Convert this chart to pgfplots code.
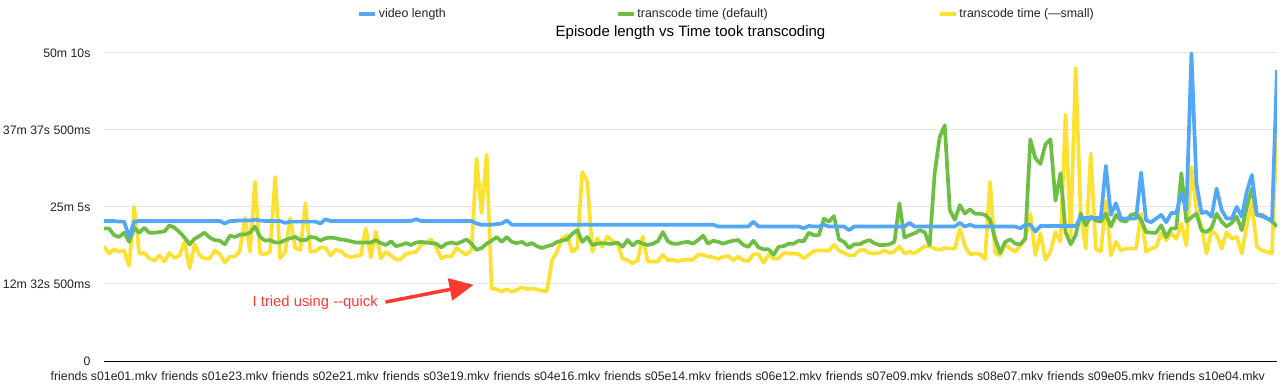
\documentclass[border=0pt]{standalone}
\usepackage{pgfplots}
\pgfplotsset{compat=1.18}
\usepackage{pgfplotstable}
\usepackage{fontspec}
\setmainfont{Liberation Sans}
\usetikzlibrary{arrows.meta}
\definecolor{vblue}{RGB}{82,167,248}
\definecolor{tgreen}{RGB}{111,190,68}
\definecolor{tyellow}{RGB}{252,224,50}
\definecolor{ared}{RGB}{255,59,48}
\definecolor{gridgray}{RGB}{228,228,228}
\definecolor{labelgray}{RGB}{34,34,34}

% minutes
\pgfplotstableread{
i blue green yellow
0 22.8 21.6 18.7
1 22.8 21.6 17.5
2 22.8 20.5 18.2
3 22.7 20.2 17.8
4 22.7 20.9 18.0
5 20.2 19.4 15.5
6 22.7 21.7 25.1
7 22.8 20.9 17.5
8 22.8 21.7 17.6
9 22.8 20.9 16.7
10 22.8 20.9 16.3
11 22.8 21.0 17.2
12 22.8 21.1 16.2
13 22.8 22.1 17.6
14 22.8 21.7 16.8
15 22.8 21.0 17.2
16 22.8 20.1 19.4
17 22.8 19.0 15.1
18 22.8 19.9 19.0
19 22.8 20.4 17.2
20 22.8 20.9 16.7
21 22.8 20.1 16.7
22 22.8 19.7 18.0
23 22.8 19.6 17.4
24 22.4 19.0 16.0
25 22.8 20.4 17.0
26 22.8 20.2 17.0
27 22.9 20.6 18.0
28 22.9 20.6 23.3
29 22.9 20.9 17.8
30 23.0 21.9 29.2
31 22.9 20.2 17.5
32 22.8 19.6 17.4
33 22.8 19.7 17.8
34 22.8 19.3 30.0
35 22.8 19.3 16.7
36 22.5 19.7 17.8
37 22.7 20.0 23.3
38 22.7 20.2 18.4
39 22.7 19.7 18.1
40 22.7 19.7 25.7
41 22.7 20.2 17.8
42 22.7 20.1 17.9
43 22.4 19.6 18.5
44 23.1 20.0 18.5
45 22.8 20.1 17.2
46 22.8 20.0 18.1
47 22.8 19.8 17.9
48 22.8 19.7 17.2
49 22.8 19.5 16.9
50 22.8 19.3 17.1
51 22.8 19.3 17.2
52 22.8 19.3 21.6
53 22.8 19.3 16.9
54 22.8 19.7 21.1
55 22.8 19.2 16.7
56 22.8 18.9 17.8
57 22.8 19.5 17.2
58 22.8 18.7 16.5
59 22.8 18.9 16.6
60 22.8 19.2 17.5
61 22.8 18.9 17.6
62 23.1 19.3 17.8
63 22.8 19.4 18.9
64 22.8 19.3 19.3
65 22.8 19.2 19.8
66 22.8 19.1 18.5
67 22.8 18.5 16.7
68 22.8 19.1 17.1
69 22.8 19.3 17.0
70 22.8 19.1 18.4
71 22.8 19.4 17.8
72 22.8 19.8 17.3
73 22.8 19.1 18.1
74 22.4 18.1 33.0
75 22.2 18.4 24.1
76 22.2 19.1 33.6
77 22.2 19.6 11.8
78 22.3 20.2 11.7
79 22.4 19.4 11.3
80 22.9 20.2 11.7
81 22.2 19.4 11.3
82 22.2 19.2 11.6
83 22.2 19.4 12.0
84 22.2 18.9 11.7
85 22.2 19.2 11.8
86 22.2 18.7 11.7
87 22.2 18.4 11.4
88 22.2 18.7 11.4
89 22.2 18.9 16.5
90 22.2 19.4 17.8
91 22.2 19.6 20.0
92 22.2 19.8 20.5
93 22.2 20.7 17.8
94 22.2 21.3 18.4
95 22.2 19.4 30.8
96 22.2 20.2 29.2
97 22.2 18.9 17.8
98 22.2 19.1 20.0
99 22.2 19.2 18.6
100 22.2 19.1 20.3
101 22.2 19.1 19.5
102 22.2 19.3 19.1
103 22.2 18.6 16.7
104 22.2 19.7 16.4
105 22.2 18.8 15.9
106 22.2 19.5 16.4
107 22.2 19.1 20.3
108 22.2 18.9 16.2
109 22.2 19.1 16.2
110 22.2 19.5 16.2
111 22.2 21.0 17.3
112 22.2 19.5 16.4
113 22.2 19.1 16.5
114 22.2 19.1 16.2
115 22.2 19.3 16.5
116 22.2 19.4 16.5
117 22.2 19.1 16.5
118 22.2 19.7 17.3
119 22.2 20.4 17.3
120 22.2 19.1 17.0
121 22.2 19.6 16.9
122 21.9 19.4 16.6
123 21.9 19.1 17.0
124 21.9 19.4 17.1
125 21.9 19.6 16.4
126 21.9 19.7 17.0
127 21.9 18.9 16.4
128 21.9 18.6 16.3
129 22.7 19.6 17.4
130 21.9 18.5 17.4
131 21.9 18.2 16.0
132 21.9 18.2 17.3
133 21.9 17.3 16.7
134 21.9 18.6 16.7
135 21.9 18.7 17.6
136 21.9 19.1 17.5
137 21.9 19.1 17.5
138 21.9 19.6 17.4
139 21.6 19.5 16.7
140 22.0 20.9 17.3
141 21.9 20.5 17.9
142 21.9 20.5 18.0
143 22.2 23.2 18.0
144 21.9 22.7 18.0
145 21.9 23.6 18.9
146 21.9 19.8 18.0
147 21.9 19.4 17.6
148 21.3 18.4 17.2
149 21.9 19.0 17.2
150 21.9 19.0 18.0
151 21.9 19.4 18.1
152 21.9 19.7 17.6
153 21.9 19.2 17.5
154 21.9 18.9 17.6
155 21.9 18.9 18.0
156 21.9 19.0 17.6
157 21.9 19.4 17.8
158 21.9 25.7 18.7
159 21.9 20.1 17.5
160 22.5 20.5 17.8
161 21.9 20.8 17.5
162 21.9 21.3 18.1
163 21.9 21.0 18.7
164 21.9 18.9 18.7
165 21.9 30.6 18.3
166 21.9 36.5 18.1
167 21.9 38.4 18.4
168 21.9 24.6 18.3
169 21.9 23.0 18.3
170 22.5 25.4 21.6
171 21.9 24.0 18.7
172 22.2 24.7 17.4
173 21.9 24.0 17.5
174 21.9 24.0 17.4
175 21.9 23.8 16.6
176 21.9 23.0 29.2
177 21.9 20.0 17.6
178 21.9 17.6 17.2
179 21.9 19.4 19.0
180 21.9 19.8 18.3
181 21.9 19.1 17.8
182 21.6 19.0 18.8
183 22.2 19.9 19.9
184 22.2 36.1 24.0
185 21.1 33.0 17.2
186 22.0 32.1 20.8
187 22.0 35.3 16.5
188 22.0 36.1 17.8
189 22.0 26.1 21.0
190 22.0 30.6 19.4
191 22.0 21.0 40.1
192 22.0 19.0 20.2
193 22.0 20.5 47.7
194 23.3 24.0 24.0
195 23.3 22.1 18.3
196 23.3 23.5 33.8
197 23.3 22.9 18.3
198 23.3 22.7 17.8
199 31.8 24.0 26.1
200 23.8 21.9 17.2
201 25.7 23.8 19.4
202 23.2 22.9 18.0
203 23.2 22.7 18.3
204 23.2 23.8 18.3
205 23.2 24.0 18.3
206 30.7 23.0 24.0
207 22.9 21.0 17.8
208 22.6 20.9 18.3
209 23.2 20.9 18.6
210 23.8 22.1 20.8
211 22.6 20.2 19.7
212 24.1 21.6 20.8
213 24.1 21.6 19.9
214 27.4 30.6 22.4
215 24.6 22.7 18.8
216 50.1 23.4 31.6
217 28.9 24.0 24.6
218 24.1 21.3 21.9
219 24.3 21.0 17.5
220 23.5 21.7 21.3
221 28.1 24.0 20.5
222 24.6 22.7 18.3
223 23.2 21.9 21.0
224 23.2 22.5 19.9
225 25.1 23.5 20.2
226 23.5 21.3 17.5
227 27.6 25.1 22.1
228 30.3 28.1 25.7
229 23.8 23.8 18.6
230 23.6 23.8 18.0
231 23.2 23.3 17.8
232 22.9 22.7 17.5
233 47.4 21.9 38.2
}\episodes

\begin{document}
\begin{tikzpicture}
\useasboundingbox (-104pt,-22pt) rectangle (1178pt,361pt);
\begin{axis}[
  at={(0pt,0pt)}, anchor=south west,
  scale only axis, width=1173pt, height=308pt,
  xmin=0, xmax=233, ymin=0, ymax=50.166667,
  axis line style={draw=none},
  major tick length=0pt,
  xtick={0,22,...,220},
  xticklabels={friends s01e01.mkv,friends s01e23.mkv,friends s02e21.mkv,friends s03e19.mkv,friends s04e16.mkv,friends s05e14.mkv,friends s06e12.mkv,friends s07e09.mkv,friends s08e07.mkv,friends s09e05.mkv,friends s10e04.mkv},
  ytick={12.541667,25.083333,37.625,50.166667},
  yticklabels={12m 32s 500ms,25m 5s,37m 37s 500ms,50m 10s},
  extra y ticks={0},
  extra y tick labels={0},
  extra y tick style={grid style={black, line width=1pt}},
  ymajorgrids,
  grid style={gridgray, line width=1pt},
  tick label style={font=\fontsize{12.3}{14}\selectfont, text=labelgray},
  yticklabel style={xshift=-10pt},
  xticklabel style={yshift=-7pt},
  title={Episode length vs Time took transcoding},
  title style={at={(axis description cs:0.5,1)}, anchor=base, yshift=10pt, font=\fontsize{15}{18}\selectfont},
  legend columns=3,
  reverse legend,
  legend style={at={(axis description cs:0,1)}, anchor=west, xshift=253pt, yshift=39pt,
    draw=none, fill=none, inner sep=0pt, text=labelgray,
    font=\fontsize{12.4}{14}\selectfont,
    /tikz/every even column/.append style={column sep=168pt}},
  legend image code/.code={\draw[#1, line width=3pt] (0pt,0pt) -- (10pt,0pt); \path (0pt,0pt) -- (16pt,0pt);},
  every axis plot/.append style={line width=3.7pt, line join=round, no markers},
]
\addplot[tyellow] table[x=i, y=yellow] {\episodes};
\addlegendentry{transcode time (—small)}
\addplot[tgreen] table[x=i, y=green] {\episodes};
\addlegendentry{transcode time (default)}
\addplot[vblue] table[x=i, y=blue] {\episodes};
\addlegendentry{video length}

\node[text=ared, font=\fontsize{14.8}{17}\selectfont] at (axis cs:41.95,9.45) {I tried using -\kern0pt-quick};
\draw[ared, line width=3.5pt, -{Triangle[length=24pt,width=22pt]}] (axis cs:55.9,9.6) -- (axis cs:73.4,12.4);
\end{axis}
\end{tikzpicture}
\end{document}
